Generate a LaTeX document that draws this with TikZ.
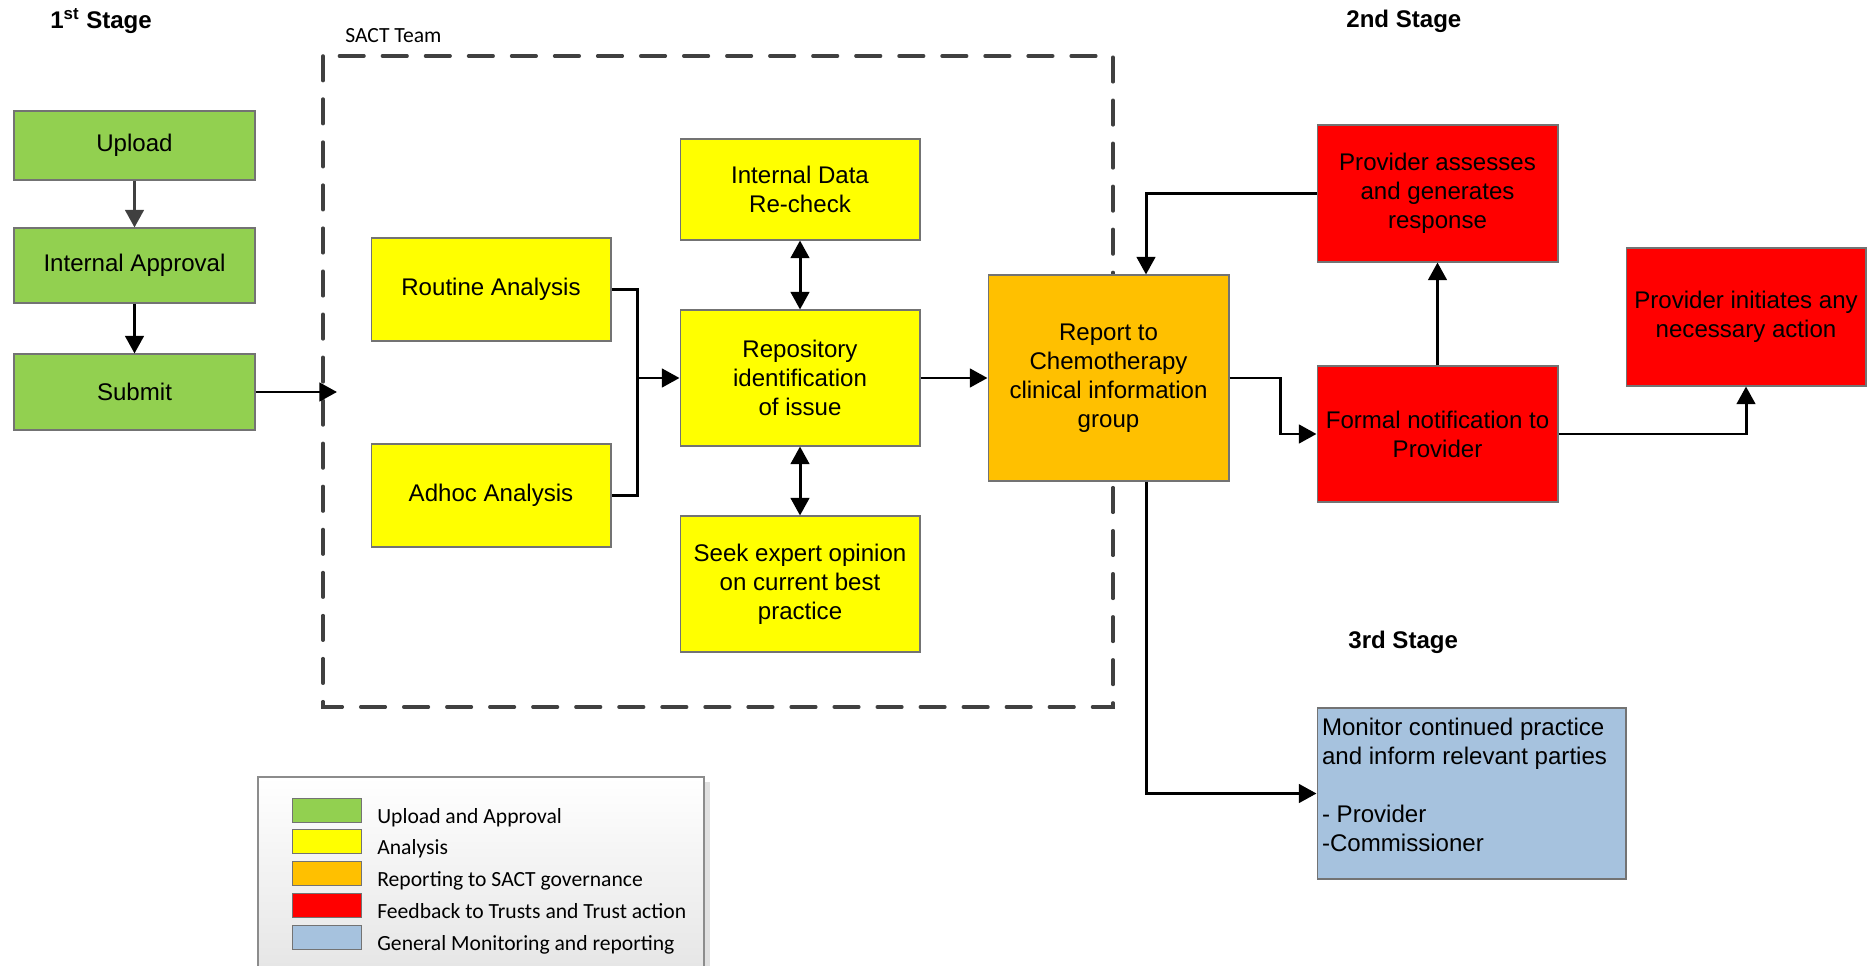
\documentclass[tikz,border=0pt]{standalone}
\usepackage{fontspec}
\setmainfont{Liberation Sans}
\newfontfamily\calibri{Carlito}
\usepackage{tikz}
\usetikzlibrary{arrows.meta,positioning,calc}

\definecolor{upgreen}{RGB}{146,208,80}
\definecolor{anyellow}{RGB}{255,255,0}
\definecolor{reporange}{RGB}{255,192,0}
\definecolor{fbred}{RGB}{255,0,0}
\definecolor{monblue}{RGB}{166,194,222}
\definecolor{darkgrey}{RGB}{64,64,64}

\newcommand{\boxfont}{\fontsize{13.7}{16.5}\selectfont}
\newcommand{\legfont}{\calibri\fontsize{12.3}{14}\selectfont}

\begin{document}
\begin{tikzpicture}[x=0.02cm, y=-0.02cm,
    box/.style={draw=black!55, line width=0.6pt, rectangle, align=center, inner sep=0pt, font=\boxfont},
    arr/.style={-{Triangle[length=10pt,width=10.5pt]}, line width=1.7pt},
    dblarr/.style={{Triangle[length=10pt,width=10.5pt]}-{Triangle[length=10pt,width=10.5pt]}, line width=1.7pt},
    conn/.style={line width=1.7pt, line join=miter},
    stage/.style={font=\boxfont\bfseries, anchor=base west, inner sep=0pt}]

    % Canvas
    \useasboundingbox[fill=white] (0,0) rectangle (1876,966);

    % Stage titles
    \node[stage] (st1) at (50,29) {1\textsuperscript{st} Stage};
    \node[stage] (st2) at (1346,28) {2nd Stage};
    \node[stage] (st3) at (1348,648) {3rd Stage};

    % SACT team frame
    \draw[darkgrey, line width=2pt, line cap=round, dash pattern=on 14pt off 10.5pt] (323,56) rectangle (1113,707);
    \node[font=\legfont, anchor=base west, inner sep=0pt] (team) at (345,43) {SACT Team};

    % Upload and approval
    \node[box, fill=upgreen, minimum width=4.82cm, minimum height=1.38cm] (upload) at (134.5,145.5) {Upload};
    \node[box, fill=upgreen, minimum width=4.82cm, minimum height=1.5cm] (approval) at (134.5,265.5) {Internal Approval};
    \node[box, fill=upgreen, minimum width=4.82cm, minimum height=1.52cm] (submit) at (134.5,392) {Submit};

    % Analysis
    \node[box, fill=anyellow, minimum width=4.8cm, minimum height=2.06cm] (routine) at (491,289.5) {Routine Analysis};
    \node[box, fill=anyellow, minimum width=4.8cm, minimum height=2.06cm] (adhoc) at (491,495.5) {Adhoc Analysis};
    \node[box, fill=anyellow, minimum width=4.8cm, minimum height=2.02cm] (recheck) at (800,189.5) {Internal Data\\Re-check};
    \node[box, fill=anyellow, minimum width=4.8cm, minimum height=2.72cm] (repo) at (800,378) {Repository\\identification\\of issue};
    \node[box, fill=anyellow, minimum width=4.8cm, minimum height=2.72cm] (seek) at (800,584) {Seek expert opinion\\on current best\\practice};

    % Reporting
    \node[box, fill=reporange, minimum width=4.82cm, minimum height=4.12cm] (report) at (1108.5,378) {Report to\\Chemotherapy\\clinical information\\group};

    % Feedback
    \node[box, fill=fbred, minimum width=4.82cm, minimum height=2.74cm] (assess) at (1437.5,193.5) {Provider assesses\\and generates\\response};
    \node[box, fill=fbred, minimum width=4.82cm, minimum height=2.72cm] (formal) at (1437.5,434) {Formal notification to\\Provider};
    \node[box, fill=fbred, minimum width=4.8cm, minimum height=2.76cm] (initiate) at (1746,317) {Provider initiates any\\necessary action};

    % Monitoring
    \node[box, fill=monblue, inner xsep=0.1cm] (monitor) at (1471.5,793.5)
        {\parbox[c][3.42cm][t]{5.98cm}{\raggedright\vspace*{0.2cm}Monitor continued practice\\and inform relevant parties\\[16.5pt]- Provider\\-Commissioner}};

    % Connectors
    \draw[arr, darkgrey] (upload) -- (approval);
    \draw[arr] (approval) -- (submit);
    \coordinate (teamin) at (337,392);
    \draw[arr] (submit.east) -- (teamin);

    \coordinate (join) at (637,378);
    \draw[conn] (routine.east) -| (join) |- (adhoc.east);
    \draw[arr] (join) -- (repo.west);
    \draw[dblarr] (repo.north) -- (recheck.south);
    \draw[dblarr] (repo.south) -- (seek.north);
    \draw[arr] (repo.east) -- (report.west);

    \draw[arr] (report.east) -- ++(51,0) |- (formal.west);
    \draw[arr] (formal.north) -- (assess.south);
    \draw[arr] (assess.west) -| ([xshift=0.75cm]report.north);
    \draw[arr] (formal.east) -| (initiate.south);
    \draw[arr] ([xshift=0.75cm]report.south) |- (monitor.west);

    % Legend
    \fill[black!12] (704,782) rectangle (710,970);
    \shade[top color=white, bottom color=black!10] (258,777) rectangle (704,970);
    \draw[black!45, line width=0.6pt] (258,970) -- (258,777) -- (704,777) -- (704,970);
    \foreach \col/\txt [count=\i] in {upgreen/Upload and Approval, anyellow/Analysis, reporange/Reporting to SACT governance, fbred/Feedback to Trusts and Trust action, monblue/General Monitoring and reporting} {
        \node[draw=black!55, fill=\col, minimum width=1.38cm, minimum height=0.48cm, inner sep=0pt] (sw\i) at (326.5,{810+31.75*(\i-1)}) {};
        \node[font=\legfont, anchor=base west, inner sep=0pt] (lg\i) at (377,{823+31.75*(\i-1)}) {\txt};
    }
\end{tikzpicture}
\end{document}
